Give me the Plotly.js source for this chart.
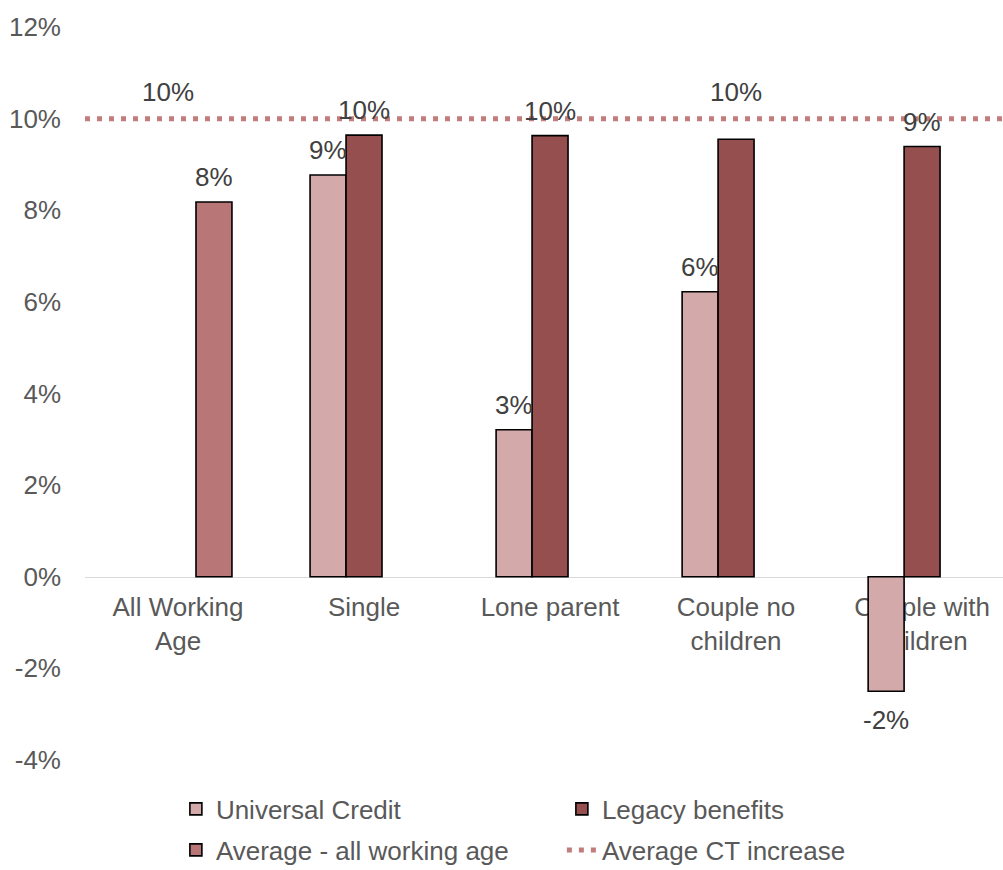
<!DOCTYPE html>
<html>
<head>
<meta charset="utf-8">
<script src="https://cdn.plot.ly/plotly-3.0.1.min.js"></script>
<style>
html,body{margin:0;padding:0;overflow:hidden;background:#fff;}
#chart{width:1003px;height:870px;}
</style>
</head>
<body>
<div id="chart"></div>
<script>
// ---- data ----
const categories = ["All Working Age", "Single", "Lone parent", "Couple no children", "Couple with children"];
const tickLabels = ["All Working<br>Age", "Single", "Lone parent", "Couple no<br>children", "Couple with<br>children"];
const ucValues = [null, 8.77, 3.21, 6.22, -2.50];
const ucLabels = ["", "9%", "3%", "6%", "-2%"];
const legacyValues = [null, 9.64, 9.63, 9.55, 9.39];
const legacyLabels = ["", "10%", "10%", "", "9%"];
const avgValues = [8.18, null, null, null, null];
const avgLabels = ["8%", "", "", "", ""];
const ctValue = 10;
const ctLabels = ["10%", "", "", "10%", ""];
const yTicks = [-4, -2, 0, 2, 4, 6, 8, 10, 12];

// ---- style ----
const W = 1003, H = 870;
const M = {l: 85, r: 0, t: 27, b: 110};
const bargap = 0.42;
const yRange = [-4, 12];
const xRange = [-0.5, 4.435];
const FONT = "Liberation Sans, Arial, sans-serif";
const FS = 26;
const colUC = "#D4A9A9", colLeg = "#954F4F", colAvg = "#B97676", colCT = "#C27C7C";

const series = [
  {name: "Universal Credit", y: ucValues, labels: ucLabels, color: colUC, legend: "legend"},
  {name: "Legacy benefits", y: legacyValues, labels: legacyLabels, color: colLeg, legend: "legend"},
  {name: "Average - all working age", y: avgValues, labels: avgLabels, color: colAvg, legend: "legend2"}
];

const traces = series.map(s => ({
  type: "bar", name: s.name, x: categories, y: s.y,
  marker: {color: s.color, line: {color: "#000", width: 1.6}},
  legend: s.legend, hoverinfo: "skip"
}));

traces.push({
  type: "scatter", mode: "lines", name: "Average CT increase",
  x: [0, 1], y: [ctValue, ctValue], xaxis: "x2",
  line: {color: colCT, width: 5, dash: "5px,7px"},
  legend: "legend2", hoverinfo: "skip"
});

const plotW = W - M.l - M.r;
const catPx = plotW / (xRange[1] - xRange[0]);
const barPx = catPx * (1 - bargap) / series.length;

const annotations = [];
series.forEach((s, i) => {
  s.labels.forEach((lab, j) => {
    if (!lab || s.y[j] === null) return;
    const neg = s.y[j] < 0;
    annotations.push({
      x: categories[j], y: s.y[j], xref: "x", yref: "y",
      text: lab, showarrow: false,
      xshift: (i - (series.length - 1) / 2) * barPx,
      yshift: neg ? -29 : 25, yanchor: "middle",
      font: {family: FONT, size: FS, color: "#404040"}
    });
  });
});
ctLabels.forEach((lab, j) => {
  if (!lab) return;
  annotations.push({
    x: categories[j], y: ctValue, xref: "x", yref: "y",
    text: lab, showarrow: false, yshift: 27, yanchor: "middle",
    xshift: j === 0 ? -10 : 0,
    font: {family: FONT, size: FS, color: "#404040"}
  });
});

const zeroPos = (0 - yRange[0]) / (yRange[1] - yRange[0]);

const legendCommon = {
  orientation: "h", x: 0.099, xanchor: "left", yanchor: "middle", yref: "container",
  entrywidth: 341, traceorder: "normal",
  font: {family: FONT, size: FS, color: "#595959"}, bgcolor: "rgba(0,0,0,0)"
};

const layout = {
  width: W, height: H, margin: Object.assign({autoexpand: false}, M),
  paper_bgcolor: "#fff", plot_bgcolor: "#fff",
  font: {family: FONT, size: FS, color: "#595959"},
  barmode: "group", bargap: bargap, bargroupgap: 0,
  showlegend: true,
  xaxis: {
    type: "category", tickvals: categories, ticktext: tickLabels,
    range: xRange,
    anchor: "free", position: zeroPos,
    showline: true, linecolor: "#D9D9D9", linewidth: 1.5,
    ticks: "", showgrid: false, zeroline: false, automargin: false,
    layer: "below traces", ticklabelstandoff: 7,
    tickfont: {family: FONT, size: FS, color: "#595959"}
  },
  xaxis2: {overlaying: "x", range: [0, 1], visible: false, anchor: "y"},
  yaxis: {
    range: yRange, tickvals: yTicks, ticktext: yTicks.map(v => v + "%"),
    showgrid: false, zeroline: false, showline: false, ticks: "", automargin: false,
    ticklabelstandoff: 23,
    tickfont: {family: FONT, size: FS, color: "#595959"}
  },
  legend: Object.assign({}, legendCommon, {y: 1 - 809 / H}),
  legend2: Object.assign({}, legendCommon, {y: 1 - 850 / H}),
  annotations: annotations
};

Plotly.newPlot("chart", traces, layout, {displayModeBar: false, staticPlot: true});
</script>
</body>
</html>
